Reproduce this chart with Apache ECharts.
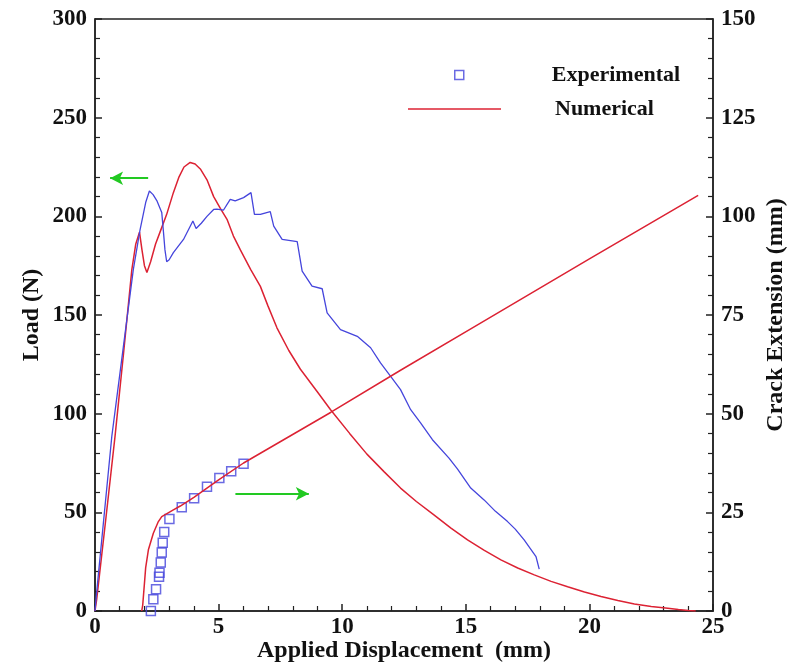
<!DOCTYPE html>
<html>
<head>
<meta charset="utf-8">
<script src="https://cdn.jsdelivr.net/npm/echarts@6/dist/echarts.min.js"></script>
<style>
html,body{margin:0;padding:0;background:#fff;}
#chart{width:802px;height:664px;}
</style>
</head>
<body>
<div id="chart"></div>
<script>
// ---- Data ----
// Numerical load (N) vs applied displacement (mm)
var numLoadX = [0,0.07,0.45,0.81,1.15,1.49,1.65,1.8,1.9,2.0,2.1,2.25,2.45,2.63,2.9,3.17,3.4,3.6,3.85,4.05,4.26,4.53,4.8,5.07,5.34,5.6,5.88,6.3,6.69,7.0,7.36,7.84,8.31,9.0,9.53,10.3,11.0,11.7,12.36,13.0,13.71,14.4,15.07,15.75,16.42,17.1,17.77,18.45,19.12,19.8,20.47,21.15,21.82,22.5,23.17,23.6,24.0,24.3];
var numLoadY = [0,6,48,88.5,130,173,186,192,183,175,171.5,177,186,192,201,212,220,225,227.3,226.5,224,218.5,210,204,198.5,190,183,173,164.5,154.5,143.5,132,122.5,111,102,90,79.5,70.5,62.3,55.5,48.7,42,36,30.7,25.9,21.8,18.3,15,12.3,9.6,7.3,5.3,3.6,2.3,1.4,0.8,0.3,0];
// Experimental load (N) vs applied displacement (mm)
var expLoadX = [0,0.04,0.68,1.2,1.55,1.82,2.05,2.2,2.35,2.5,2.7,2.77,2.83,2.9,3.0,3.17,3.58,3.96,4.01,4.09,4.3,4.53,4.8,4.93,5.2,5.47,5.67,6.01,6.31,6.45,6.69,7.09,7.23,7.57,8.18,8.38,8.78,9.19,9.39,9.93,10.61,11.15,11.55,11.96,12.36,12.77,13.17,13.65,14.32,14.66,15.2,15.74,16.2,16.69,17.0,17.36,17.84,17.97];
var expLoadY = [0,6,88.5,139,173,193,207,212.8,211,208,202,192,183,177,178,181.6,188.3,197.6,198.5,193.8,196.5,200,203.5,203.7,203.2,208.6,207.8,209.5,212,201,201,202.4,195,188.3,187.2,172.2,164.6,163.3,151.1,142.6,139.2,133.4,125.7,118.9,112.2,102,95.3,86.8,77.5,72,62.3,56.3,50.5,45.3,41.5,36,27.6,21.2];
// Numerical crack extension (mm) vs applied displacement (mm)
var numCrackX = [1.89,1.93,2.0,2.05,2.16,2.36,2.55,2.7,3.17,3.45,4.0,5.0,6.01,9.53,12.36,15.2,20.0,24.4];
var numCrackY = [0,1.5,7,11,15.5,19.7,22.5,23.9,25.6,26.6,28.8,33.2,37.5,50.3,61,71.5,89.2,105.3];
// Experimental crack extension (mm) vs applied displacement (mm)
var expCrackX = [2.26,2.36,2.47,2.59,2.61,2.66,2.7,2.74,2.8,3.01,3.51,4.01,4.53,5.03,5.51,6.01];
var expCrackY = [0,3,5.5,8.7,9.7,12.3,14.8,17.3,20,23.3,26.3,28.6,31.5,33.7,35.4,37.3];
// Annotation arrows (displacement, load)
var arrowLoadFrom = [2.15, 219.3], arrowLoadTo = [0.61, 219.3];
var arrowCrackFrom = [5.68, 59.4], arrowCrackTo = [8.65, 59.4];
// Axis ticks
var xTicks = {min: 0, max: 25, interval: 5};
var loadTicks = {min: 0, max: 300, interval: 50};
var crackTicks = {min: 0, max: 150, interval: 25};

function zip(a, b) { return a.map(function (v, i) { return [v, b[i]]; }); }

var FONT = 'Liberation Serif';
var RED = '#dc2233';
var BLUE = '#4545dc';
var GREEN = '#22c922';
var AX = '#222';

var labelStyle = {fontFamily: FONT, fontWeight: 'bold', fontSize: 23, color: '#111'};
var nameStyle = {fontFamily: FONT, fontWeight: 'bold', fontSize: 24, color: '#111'};
var legendText = {fontFamily: FONT, fontWeight: 'bold', fontSize: 22, color: '#111'};

var chart = echarts.init(document.getElementById('chart'), null, {renderer: 'canvas'});
chart.setOption({
  animation: false,
  backgroundColor: '#fff',
  grid: {left: 95, right: 89, top: 19, bottom: 53, outerBoundsMode: 'none', containLabel: false,
         show: true, borderColor: AX, borderWidth: 1.5, backgroundColor: 'transparent'},
  legend: [{
    left: 449, top: 59, orient: 'vertical', itemWidth: 9, itemHeight: 9,
    data: [{name: 'Experimental', icon: 'rect', itemStyle: {color: '#fff', borderColor: BLUE, borderWidth: 1.5}}],
    textStyle: Object.assign({padding: [0, 0, 0, 83]}, legendText),
    selectedMode: false
  }, {
    left: 403, top: 93, orient: 'vertical', itemWidth: 93, itemHeight: 1.5,
    data: [{name: 'Numerical', icon: 'rect', itemStyle: {color: RED}}],
    textStyle: Object.assign({padding: [0, 0, 0, 49]}, legendText),
    selectedMode: false
  }],
  xAxis: {
    type: 'value', min: xTicks.min, max: xTicks.max, interval: xTicks.interval,
    name: 'Applied Displacement  (mm)', nameLocation: 'middle', nameGap: 28, nameMoveOverlap: false,
    nameTextStyle: nameStyle,
    axisLine: {show: true, onZero: false, lineStyle: {color: AX, width: 1.5}},
    axisTick: {show: true, inside: true, length: 7, lineStyle: {color: AX, width: 1.5}},
    minorTick: {show: true, splitNumber: 5, length: 5, lineStyle: {color: AX, width: 1.2}},
    splitLine: {show: false},
    axisLabel: Object.assign({margin: 5}, labelStyle)
  },
  yAxis: [{
    type: 'value', position: 'left', min: loadTicks.min, max: loadTicks.max, interval: loadTicks.interval,
    name: 'Load (N)', nameLocation: 'middle', nameGap: 51, nameRotate: 90, nameMoveOverlap: false,
    nameTextStyle: nameStyle,
    axisLine: {show: true, onZero: false, lineStyle: {color: AX, width: 1.5}},
    axisTick: {show: true, inside: true, length: 7, lineStyle: {color: AX, width: 1.5}},
    minorTick: {show: true, splitNumber: 5, length: 5, lineStyle: {color: AX, width: 1.2}},
    splitLine: {show: false},
    axisLabel: Object.assign({margin: 8}, labelStyle)
  }, {
    type: 'value', position: 'right', min: crackTicks.min, max: crackTicks.max, interval: crackTicks.interval,
    name: 'Crack Extension (mm)', nameLocation: 'middle', nameGap: 51, nameRotate: 90, nameMoveOverlap: false,
    nameTextStyle: nameStyle,
    axisLine: {show: true, onZero: false, lineStyle: {color: AX, width: 1.5}},
    axisTick: {show: true, inside: true, length: 7, lineStyle: {color: AX, width: 1.5}},
    minorTick: {show: true, splitNumber: 5, length: 5, lineStyle: {color: AX, width: 1.2}},
    splitLine: {show: false},
    axisLabel: Object.assign({margin: 8}, labelStyle)
  }],
  series: [{
    name: 'Numerical', type: 'line', yAxisIndex: 0, data: zip(numLoadX, numLoadY),
    showSymbol: false, smooth: false, lineStyle: {color: RED, width: 1.5}, itemStyle: {color: RED},
    markLine: {
      silent: true, symbol: ['none', 'arrow'], symbolSize: [10, 13],
      label: {show: false},
      lineStyle: {color: GREEN, width: 2, type: 'solid'},
      data: [
        [{coord: arrowLoadFrom}, {coord: arrowLoadTo}],
        [{coord: arrowCrackFrom}, {coord: arrowCrackTo}]
      ]
    }
  }, {
    name: 'Experimental load', type: 'line', yAxisIndex: 0, data: zip(expLoadX, expLoadY),
    showSymbol: false, smooth: false, lineStyle: {color: BLUE, width: 1.3}, itemStyle: {color: BLUE}
  }, {
    name: 'Numerical', type: 'line', yAxisIndex: 1, data: zip(numCrackX, numCrackY),
    showSymbol: false, smooth: false, lineStyle: {color: RED, width: 1.5}, itemStyle: {color: RED}
  }, {
    name: 'Experimental', type: 'scatter', yAxisIndex: 1, data: zip(expCrackX, expCrackY),
    symbol: 'rect', symbolSize: 9,
    itemStyle: {color: 'rgba(255,255,255,0)', borderColor: BLUE, borderWidth: 1.5}
  }]
});
</script>
</body>
</html>
